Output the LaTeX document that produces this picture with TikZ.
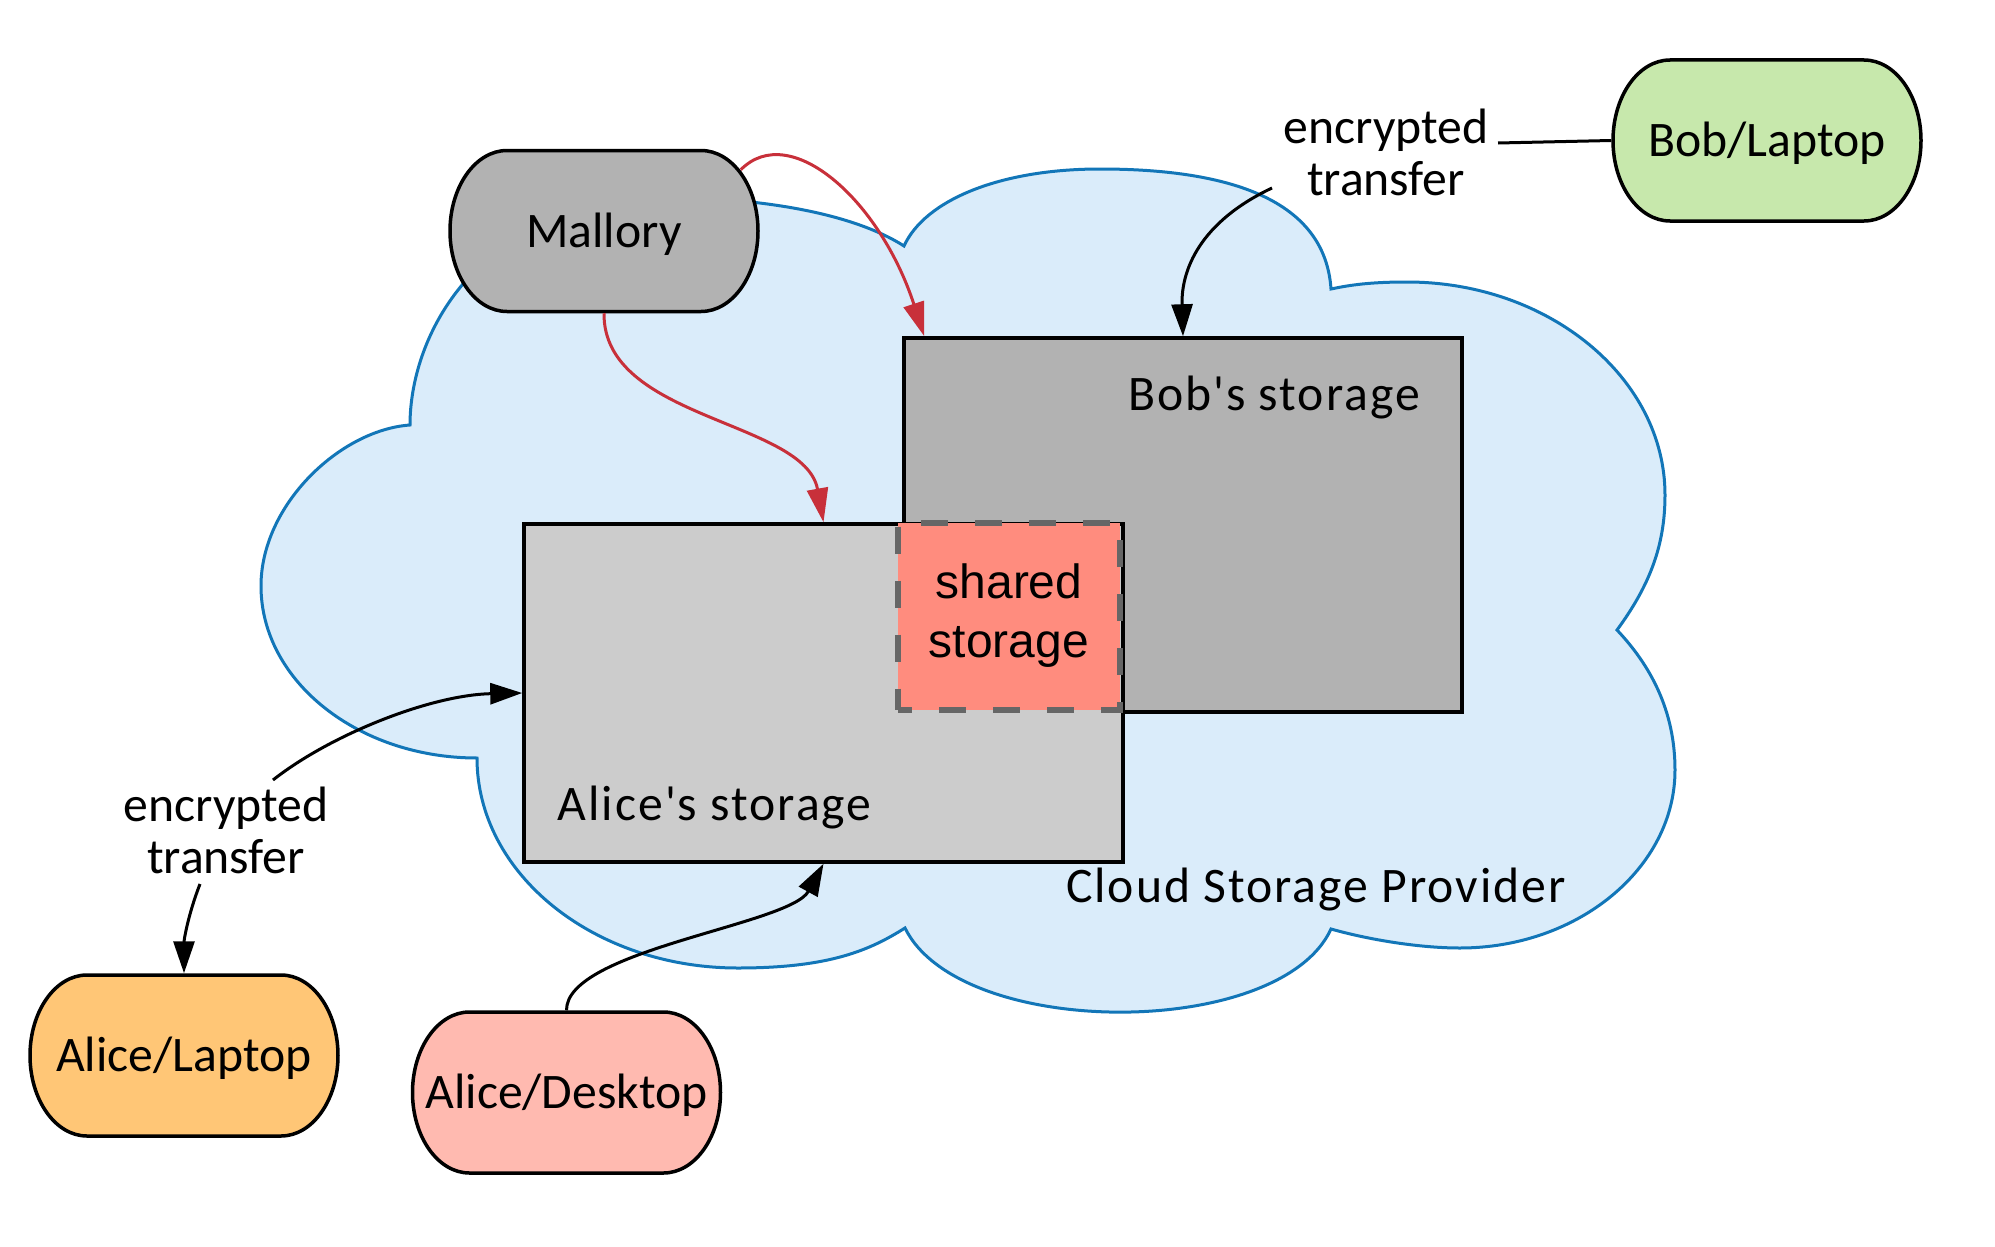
\documentclass[tikz,border=0pt]{standalone}
\usepackage{fontspec}
\usepackage{tikz}
\usetikzlibrary{arrows.meta,calc}
\newfontfamily\lblfont{Carlito}
\newfontfamily\widefont{Carlito}[LetterSpace=4]
\newfontfamily\shfont{Liberation Sans}
\definecolor{cloudfill}{RGB}{218,236,250}
\definecolor{clouddraw}{RGB}{18,118,184}
\definecolor{malfill}{RGB}{178,178,178}
\definecolor{bobfill}{RGB}{178,178,178}
\definecolor{alicefill}{RGB}{204,204,204}
\definecolor{sharedfill}{RGB}{255,140,126}
\definecolor{sharedline}{RGB}{102,102,102}
\definecolor{boblapfill}{RGB}{199,232,172}
\definecolor{alicelapfill}{RGB}{255,198,118}
\definecolor{alicedeskfill}{RGB}{255,186,176}
\definecolor{attack}{RGB}{200,48,58}
\tikzset{every picture/.style={line width=3.5pt},
  lbl/.style={font=\lblfont\fontsize{49.7pt}{52pt}\selectfont, inner sep=0pt},
  boxlbl/.style={font=\widefont\fontsize{49.7pt}{52pt}\selectfont, inner sep=0pt},
  store/.style={draw=black, line width=3.5pt, inner sep=0pt},
  term/.style={lbl, minimum width=308pt, minimum height=161pt, text height=32pt, text depth=0pt},
  transfer/.style={draw=black, line width=3pt},
  attackline/.style={draw=attack, line width=3pt, -{Triangle[length=34pt,width=21pt]}},
  tip/.style={-{Triangle[length=32pt,width=21pt]}}
}
% terminator outline: centre x, centre y, fill
\newcommand{\termshape}[3]{%
  \filldraw[line width=3.5pt, fill=#3] (#1-97,#2-80.5) -- (#1+97,#2-80.5)
    arc[start angle=-90,end angle=90,x radius=57,y radius=80.5] -- (#1-97,#2+80.5)
    arc[start angle=90,end angle=270,x radius=57,y radius=80.5] -- cycle;}

\begin{document}
\begin{tikzpicture}[x=1pt,y=1pt,yscale=-1,xscale=1]
\path[use as bounding box, fill=white] (0,0) rectangle (1995,1247);

%Shape: Cloud
\filldraw[fill=cloudfill, draw=clouddraw, line width=3pt]
  (410,425) .. controls (340,430) and (261,505) .. (261,586)
  .. controls (261,681) and (358,758) .. (477,758)
  .. controls (477,874) and (594,968) .. (738,968)
  .. controls (830,968) and (870,950) .. (905,928)
  .. controls (960,1040) and (1280,1040) .. (1331,929)
  .. controls (1370,940) and (1420,948) .. (1460,948)
  .. controls (1578,948) and (1675,868) .. (1675,770)
  .. controls (1675,710) and (1650,665) .. (1617,630)
  .. controls (1650,585) and (1665,545) .. (1665,495)
  .. controls (1665,378) and (1549,282) .. (1407,282)
  .. controls (1370,282) and (1350,285) .. (1331,289)
  .. controls (1325,200) and (1230,169) .. (1100,169)
  .. controls (1000,169) and (925,200) .. (904,246)
  .. controls (840,205) and (720,195) .. (640,198)
  .. controls (470,215) and (410,340) .. (410,425) -- cycle;

%Shape: Rectangle
\node[store, fill=bobfill, minimum width=558pt, minimum height=374pt] (bob) at (1183,525) {};
%Shape: Rectangle
\node[store, fill=alicefill, minimum width=599pt, minimum height=338pt] (alice) at (823.5,693) {};
%Shape: Rectangle
\node[draw=sharedline, fill=sharedfill, line width=6pt, dash pattern=on 27pt off 27pt, dash phase=13pt,
  minimum width=222pt, minimum height=187pt, inner sep=0pt, align=center,
  font=\shfont\fontsize{48pt}{59pt}\selectfont] (shared) at (1009,616) {shared\\storage};

%Shape: Terminators
\termshape{604}{231}{malfill}
\node[term] (mal) at (604,231) {Mallory};
\termshape{1767}{140.5}{boblapfill}
\node[term] (boblap) at (1767,140.5) {Bob/Laptop};
\termshape{184}{1055.5}{alicelapfill}
\node[term] (alicelap) at (184,1055.5) {Alice/Laptop};
\termshape{566.5}{1092.5}{alicedeskfill}
\node[term] (alicedesk) at (566.5,1092.5) {Alice/Desktop};

% Text Node
\node[boxlbl, anchor=base] (bobtxt) at (1274,410) {Bob's storage};
% Text Node
\node[boxlbl, anchor=base west] (alicetxt) at (556,820) {Alice's storage};
% Text Node
\node[boxlbl, anchor=base] (cloudtxt) at (1316,902) {Cloud Storage Provider};
% Text Node
\node[lbl, align=center] (encbob) at (1386,152) {encrypted\\transfer};
% Text Node
\node[lbl, align=center] (encalice) at (226,830) {encrypted\\transfer};

%Straight Lines
\draw[transfer] (boblap.west) -- ($(encbob.center)+(112,-9)$);
\draw[transfer, tip] ($(encbob.center)+(-114,36)$) .. controls (1200,222) and (1181,270) .. (bob.north);
\draw[transfer, tip] ($(encalice.center)+(47,-50)$) .. controls (330,735) and (430,695) .. (alice.west);
\draw[transfer, tip] ($(encalice.center)+(-26,54)$) .. controls (188,915) and (184,940) .. (alicelap.north);
\draw[transfer, tip] (alicedesk.north) .. controls (566,950) and (790,925) .. (alice.south);
\draw[attackline] ($(mal.north east)+(-19,21)$) .. controls (790,120) and (880,200) .. ($(bob.north west)+(22,0)$);
\draw[attackline] (mal.south) .. controls (603,420) and (805,420) .. (alice.north);

\end{tikzpicture}
\end{document}
